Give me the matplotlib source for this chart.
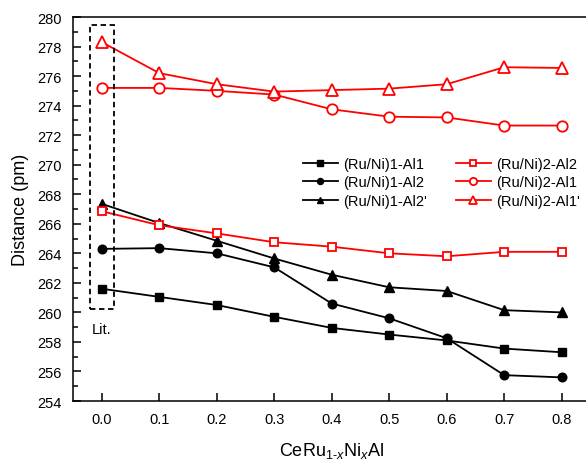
import numpy as np
import matplotlib
matplotlib.use('Agg')
import matplotlib.pyplot as plt
from matplotlib.patches import Rectangle

plt.rcParams['font.family'] = ['Liberation Sans', 'DejaVu Sans']
plt.rcParams['mathtext.fontset'] = 'custom'
plt.rcParams['mathtext.rm'] = 'Liberation Sans'
plt.rcParams['mathtext.it'] = 'Liberation Sans:italic'

# Ni content x
x = [0.0, 0.1, 0.2, 0.3, 0.4, 0.5, 0.6, 0.7, 0.8]

# (Ru/Ni)1 distances (pm)
ru1_al1 = [261.6, 261.05, 260.5, 259.7, 258.95, 258.5, 258.1, 257.55, 257.3]
ru1_al2 = [264.3, 264.35, 264.0, 263.05, 260.6, 259.6, 258.25, 255.75, 255.6]
ru1_al2p = [267.35, 266.05, 264.85, 263.65, 262.55, 261.7, 261.45, 260.15, 260.0]

# (Ru/Ni)2 distances (pm)
ru2_al2 = [266.85, 265.9, 265.35, 264.75, 264.45, 264.0, 263.8, 264.1, 264.1]
ru2_al1 = [275.2, 275.2, 275.0, 274.75, 273.75, 273.25, 273.2, 272.65, 272.65]
ru2_al1p = [278.3, 276.2, 275.45, 274.95, 275.05, 275.15, 275.45, 276.6, 276.55]

fig = plt.figure(figsize=(5.86, 4.64), dpi=100)
ax = fig.add_axes([0.1246, 0.1336, 0.883, 0.8276])

lw = 1.3
ax.plot(x, ru1_al1, 'k-', marker='s', ms=5.5, lw=lw, label='(Ru/Ni)1-Al1')
ax.plot(x, ru1_al2, 'k-', marker='o', ms=6.2, lw=lw, label='(Ru/Ni)1-Al2')
ax.plot(x, ru1_al2p, 'k-', marker='^', ms=6.5, lw=lw, label="(Ru/Ni)1-Al2'")
ax.plot(x, ru2_al2, '-', color='#ff0000', marker='s', ms=6, mfc='white', mew=1.3,
        lw=lw, label='(Ru/Ni)2-Al2')
ax.plot(x, ru2_al1, '-', color='#ff0000', marker='o', ms=7.5, mfc='white', mew=1.3,
        lw=lw, label='(Ru/Ni)2-Al1')
ax.plot(x, ru2_al1p, '-', color='#ff0000', marker='^', ms=8.5, mfc='white', mew=1.3,
        lw=lw, label="(Ru/Ni)2-Al1'")

# literature box
ax.add_patch(Rectangle((-0.021, 260.2), 0.043, 19.25, fill=False, ec='black',
                       ls=(0, (3, 2)), lw=1.3, zorder=5))
ax.text(0.0, 258.9, 'Lit.', ha='center', va='center', fontsize=10.5)

ax.set_xlim(-0.05, 0.85)
ax.set_ylim(254, 280)
ax.set_xticks(np.arange(0, 0.81, 0.1))
ax.set_xticklabels(['%.1f' % v for v in np.arange(0, 0.81, 0.1)])
ax.set_yticks(np.arange(254, 281, 2))
ax.set_yticks(np.arange(255, 280, 2), minor=True)
ax.tick_params(axis='both', which='major', direction='in', length=6, width=1.1,
               labelsize=10.5, pad=8)
ax.tick_params(axis='y', which='minor', direction='in', length=3.5, width=1.1)
for s in ax.spines.values():
    s.set_linewidth(1.1)

ax.set_ylabel('Distance (pm)', fontsize=13, labelpad=6)
ax.set_xlabel(r'CeRu$_{\text{1-}x}$Ni$_{x}$Al', fontsize=13, labelpad=10)

ax.legend(ncol=2, frameon=False, fontsize=10.5, handlelength=2.4,
          handletextpad=0.35, columnspacing=2.0, labelspacing=0.3,
          markerscale=0.7, loc='center', bbox_to_anchor=(0.753, 0.605),
          bbox_transform=fig.transFigure)

fig.savefig('out.png', dpi=100)
